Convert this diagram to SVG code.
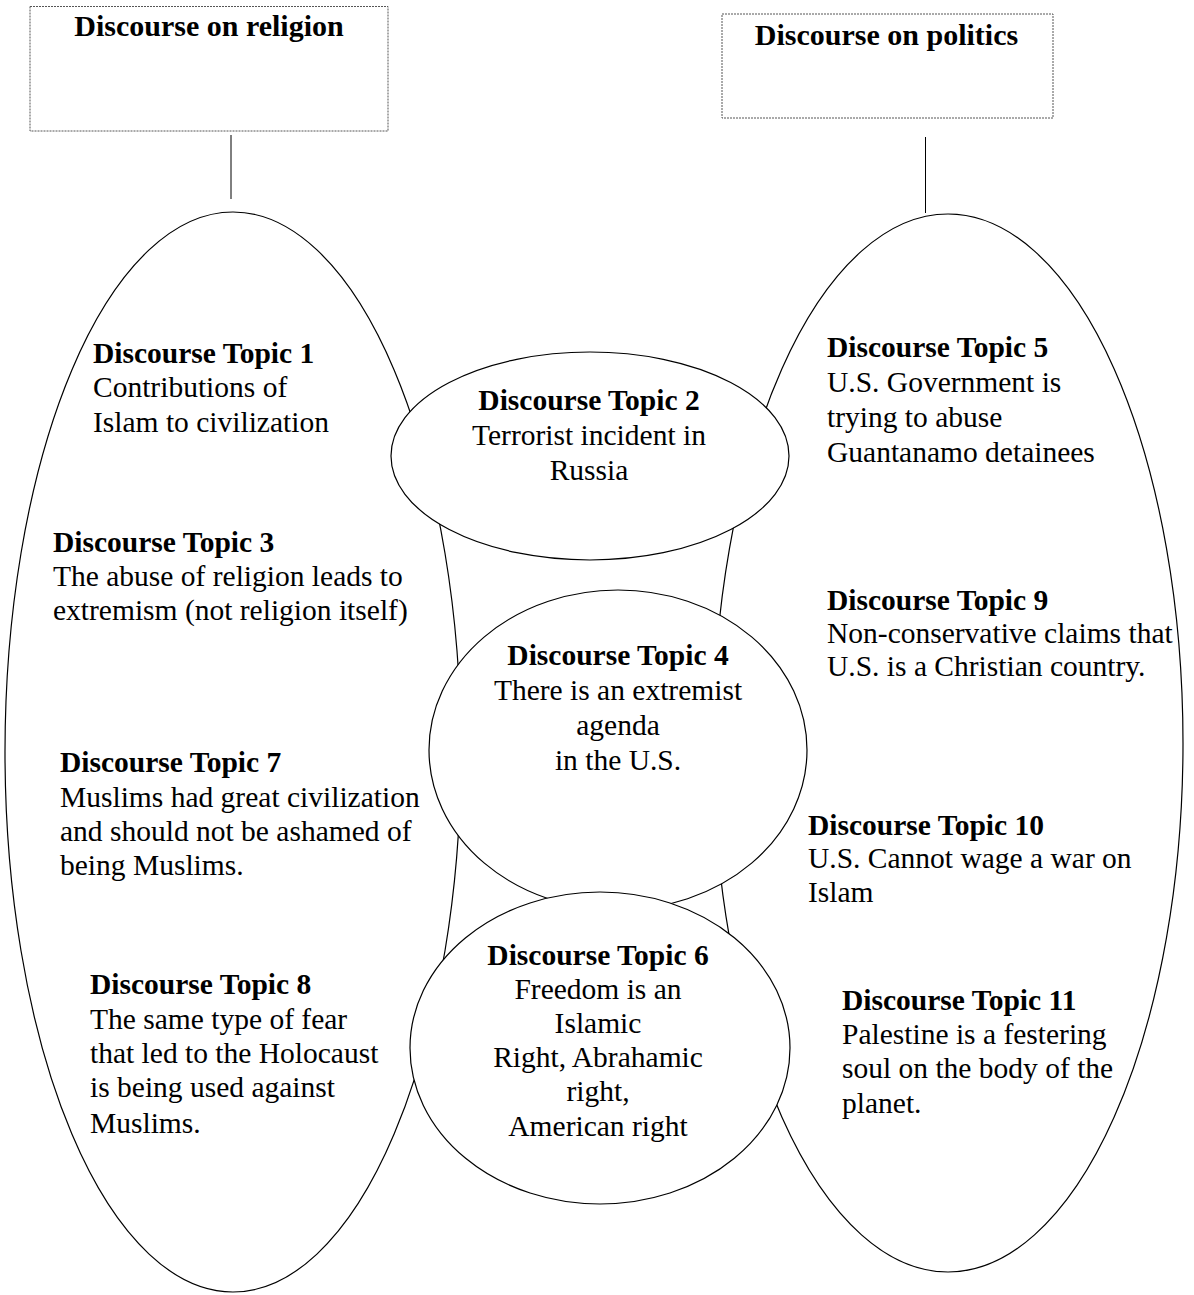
<svg xmlns="http://www.w3.org/2000/svg" width="1194" height="1295" viewBox="0 0 1194 1295">
<style>
  text { font-family: "Liberation Serif", "Times New Roman", serif; font-size: 29.5px; fill: #000; }
  .h { font-weight: bold; }
  .t { font-weight: bold; font-size: 30px; }
  .c { text-anchor: middle; }
  .box { fill: #fff; stroke: #555; stroke-width: 1; stroke-dasharray: 2 1; }
  .big { fill: none; stroke: #000; stroke-width: 1.2; }
  .mid { fill: #fff; stroke: #000; stroke-width: 1.2; }
  .conn line { stroke: #000; stroke-width: 1; }
</style>
<rect width="1194" height="1295" fill="#fff"/>

<g id="connectors" class="conn">
  <line x1="231" y1="135" x2="231" y2="199"/>
  <line x1="925.5" y1="137" x2="925.5" y2="213"/>
</g>

<g id="religion-box">
  <rect class="box" x="30" y="6.5" width="358" height="124.5"/>
  <text class="t c" x="209" y="36">Discourse on religion</text>
</g>

<g id="politics-box">
  <rect class="box" x="722" y="14" width="331" height="104"/>
  <text class="t c" x="886.5" y="45">Discourse on politics</text>
</g>

<g id="religion-ellipse">
  <ellipse class="big" cx="233" cy="752" rx="228" ry="540"/>
</g>

<g id="politics-ellipse">
  <ellipse class="big" cx="948" cy="743" rx="235" ry="529"/>
</g>

<g id="topic1">
  <text x="93" y="363" class="h">Discourse Topic 1</text>
  <text x="93" y="397">Contributions of</text>
  <text x="93" y="432">Islam to civilization</text>
</g>

<g id="topic3">
  <text x="53" y="552" class="h">Discourse Topic 3</text>
  <text x="53" y="586">The abuse of religion leads to</text>
  <text x="53" y="620">extremism (not religion itself)</text>
</g>

<g id="topic7">
  <text x="60" y="772" class="h">Discourse Topic 7</text>
  <text x="60" y="807">Muslims had great civilization</text>
  <text x="60" y="841">and should not be ashamed of</text>
  <text x="60" y="875">being Muslims.</text>
</g>

<g id="topic8">
  <text x="90" y="994" class="h">Discourse Topic 8</text>
  <text x="90" y="1029">The same type of fear</text>
  <text x="90" y="1063">that led to the Holocaust</text>
  <text x="90" y="1097">is being used against</text>
  <text x="90" y="1133">Muslims.</text>
</g>

<g id="topic5">
  <text x="827" y="357" class="h">Discourse Topic 5</text>
  <text x="827" y="392">U.S. Government is</text>
  <text x="827" y="427">trying to abuse</text>
  <text x="827" y="462">Guantanamo detainees</text>
</g>

<g id="topic9">
  <text x="827" y="610" class="h">Discourse Topic 9</text>
  <text x="827" y="643">Non-conservative claims that</text>
  <text x="827" y="676">U.S. is a Christian country.</text>
</g>

<g id="topic10">
  <text x="808" y="835" class="h">Discourse Topic 10</text>
  <text x="808" y="868">U.S. Cannot wage a war on</text>
  <text x="808" y="902">Islam</text>
</g>

<g id="topic11">
  <text x="842" y="1010" class="h">Discourse Topic 11</text>
  <text x="842" y="1044">Palestine is a festering</text>
  <text x="842" y="1078">soul on the body of the</text>
  <text x="842" y="1113">planet.</text>
</g>

<g id="topic2">
  <ellipse class="mid" cx="590" cy="456" rx="199" ry="104"/>
  <text class="h c" x="589" y="410">Discourse Topic 2</text>
  <text class="c" x="589" y="445">Terrorist incident in</text>
  <text class="c" x="589" y="480">Russia</text>
</g>

<g id="topic4">
  <ellipse class="mid" cx="618" cy="750" rx="189" ry="160"/>
  <text class="h c" x="618" y="665">Discourse Topic 4</text>
  <text class="c" x="618" y="700">There is an extremist</text>
  <text class="c" x="618" y="735">agenda</text>
  <text class="c" x="618" y="770">in the U.S.</text>
</g>

<g id="topic6">
  <ellipse class="mid" cx="600" cy="1048" rx="190" ry="156"/>
  <text class="h c" x="598" y="965">Discourse Topic 6</text>
  <text class="c" x="598" y="999">Freedom is an</text>
  <text class="c" x="598" y="1033">Islamic</text>
  <text class="c" x="598" y="1067">Right, Abrahamic</text>
  <text class="c" x="598" y="1101">right,</text>
  <text class="c" x="598" y="1136">American right</text>
</g>
</svg>
